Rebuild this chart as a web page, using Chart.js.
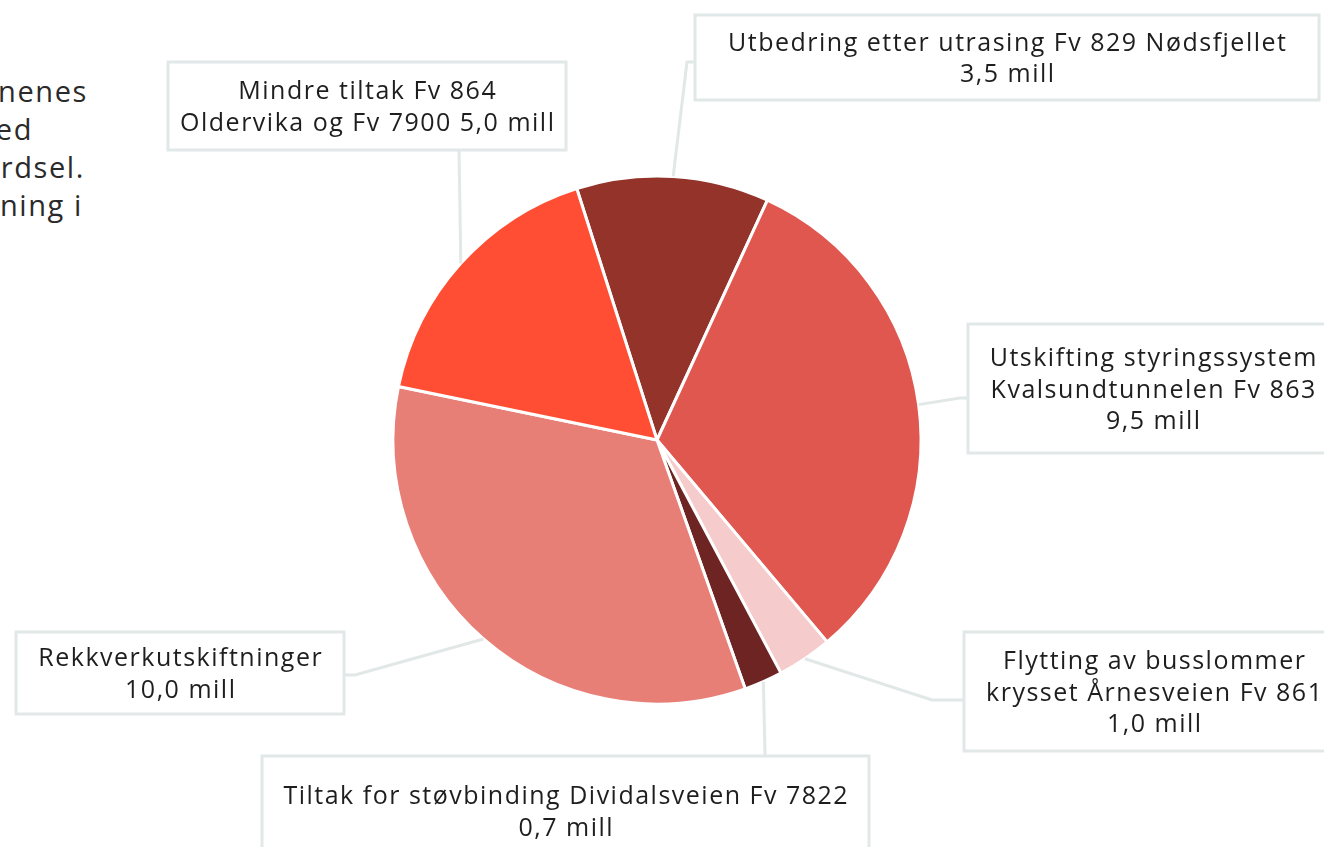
<!DOCTYPE html>
<html>
<head>
<meta charset="utf-8">
<script src="https://cdn.jsdelivr.net/npm/chart.js@4"></script>
<style>
  html, body { margin: 0; padding: 0; background: #fff; }
  #wrap { position: relative; width: 1324px; height: 847px; overflow: hidden; }
  #chart { position: absolute; left: 0; top: 0; }
  .intro { position: absolute; font-family: "Open Sans", sans-serif; font-size: 29px; letter-spacing: 1.6px; color: #2a2a2a; white-space: nowrap; line-height: 38px; }
</style>
</head>
<body>
<div id="wrap">
  <div class="intro" style="right:1236px; top:72px;">nenes</div>
  <div class="intro" style="right:1291px; top:110px;">ed</div>
  <div class="intro" style="right:1239px; top:148px;">rdsel.</div>
  <div class="intro" style="right:1241px; top:186px;">ning i</div>
  <canvas id="chart" width="1324" height="847"></canvas>
</div>
<script>
// data, clockwise from the top
const categories = [
    "Utbedring etter utrasing Fv 829 Nødsfjellet",
    "Utskifting styringssystem\nKvalsundtunnelen Fv 863",
    "Flytting av busslommer\nkrysset Årnesveien Fv 861",
    "Tiltak for støvbinding Dividalsveien Fv 7822",
    "Rekkverkutskiftninger",
    "Mindre tiltak Fv 864\nOldervika og Fv 7900"
];
const values = [3.5, 9.5, 1.0, 0.7, 10.0, 5.0];
const colors = ['#94332A', '#E05750', '#F5CBCB', '#6D2422', '#E87F77', '#FF4E33'];

// where the label boxes sit (layout only)
const boxes = [
    { x: 695, y: 15, w: 624, h: 85, knee: [[687, 62], [695, 62]] },
    { x: 968, y: 324, w: 370, h: 129, knee: [[960, 398], [968, 398]] },
    { x: 964, y: 632, w: 380, h: 119, knee: [[932, 700], [964, 700]] },
    { x: 262, y: 756, w: 607, h: 110, knee: [[765, 756]] },
    { x: 16, y: 632, w: 328, h: 82, knee: [[355, 675], [344, 675]] },
    { x: 168, y: 62, w: 398, h: 88, knee: [[459, 150]], inline: true }
];

function fmt(v) {
    return v.toFixed(1).replace('.', ',') + ' mill';
}

const labelPlugin = {
    id: 'boxLabels',
    afterDatasetsDraw(chart) {
        const ctx = chart.ctx;
        const arcs = chart.getDatasetMeta(0).data;
        ctx.save();
        for (let i = 0; i < arcs.length; i++) {
            const p = arcs[i].getProps(['x', 'y', 'startAngle', 'endAngle', 'outerRadius'], true);
            const mid = (p.startAngle + p.endAngle) / 2;
            const sx = p.x + Math.cos(mid) * p.outerRadius;
            const sy = p.y + Math.sin(mid) * p.outerRadius;
            const b = boxes[i];

            // leader line
            ctx.strokeStyle = '#E2E8E7';
            ctx.lineWidth = 3;
            ctx.beginPath();
            ctx.moveTo(sx, sy);
            b.knee.forEach(k => ctx.lineTo(k[0], k[1]));
            ctx.stroke();

            // box
            ctx.fillStyle = '#fff';
            ctx.fillRect(b.x, b.y, b.w, b.h);
            ctx.strokeRect(b.x, b.y, b.w, b.h);

            // text
            let lines = categories[i].split('\n');
            if (b.inline) {
                lines[lines.length - 1] += ' ' + fmt(values[i]);
            } else {
                lines.push(fmt(values[i]));
            }
            ctx.fillStyle = '#1e1e1e';
            ctx.font = '25px "Open Sans"';
            ctx.letterSpacing = '1.5px';
            ctx.textAlign = 'center';
            ctx.textBaseline = 'middle';
            const lh = 31.5;
            const cx = b.x + b.w / 2 + 0.75;
            const cy = b.y + b.h / 2 + 2;
            lines.forEach((t, j) => {
                ctx.fillText(t, cx, cy + (j - (lines.length - 1) / 2) * lh);
            });
        }
        ctx.restore();
    }
};

const config = {
    type: 'pie',
    data: {
        labels: categories,
        datasets: [{
            data: values,
            backgroundColor: colors,
            borderColor: '#ffffff',
            borderWidth: 3
        }]
    },
    options: {
        responsive: false,
        animation: false,
        rotation: -17.7,
        radius: 264,
        layout: { padding: { left: 0, right: 10, top: 58, bottom: 25 } },
        plugins: {
            legend: { display: false },
            tooltip: { enabled: false }
        }
    },
    plugins: [labelPlugin]
};

let canvas = document.getElementById('chart');
let myChart = new Chart(canvas.getContext('2d'), config);
</script>
</body>
</html>
